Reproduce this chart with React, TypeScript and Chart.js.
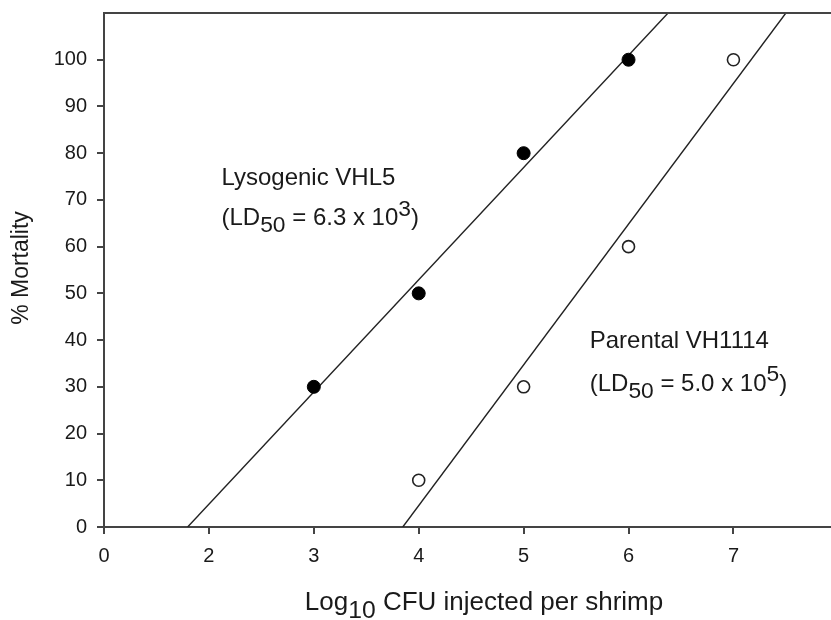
import React, { useEffect, useRef } from "react";
import { Chart, registerables } from "chart.js";

Chart.register(...registerables);

// ---- data ----
const lysogenicX = [3, 4, 5, 6];
const lysogenicY = [30, 50, 80, 100];
const parentalX = [4, 5, 6, 7];
const parentalY = [10, 30, 60, 100];
// fitted regression lines (endpoints)
const lysogenicFitX = [1.797, 6.377];
const lysogenicFitY = [0, 110];
const parentalFitX = [3.848, 7.5];
const parentalFitY = [0, 110];
// ticks (broken axis: first tick labelled "0")
const xTickValues = [1, 2, 3, 4, 5, 6, 7];
const xTickLabels = ["0", "2", "3", "4", "5", "6", "7"];
const yTickValues = [0, 10, 20, 30, 40, 50, 60, 70, 80, 90, 100];

type Part = { t: string; sub?: boolean; sup?: boolean };
const lysoLabel1: Part[] = [{ t: "Lysogenic VHL5" }];
const lysoLabel2: Part[] = [
  { t: "(LD" }, { t: "50", sub: true }, { t: " = 6.3 x 10" }, { t: "3", sup: true }, { t: ")" },
];
const paraLabel1: Part[] = [{ t: "Parental VH1114" }];
const paraLabel2: Part[] = [
  { t: "(LD" }, { t: "50", sub: true }, { t: " = 5.0 x 10" }, { t: "5", sup: true }, { t: ")" },
];
const xTitle: Part[] = [{ t: "Log" }, { t: "10", sub: true }, { t: " CFU injected per shrimp" }];
const yTitle = "% Mortality";

const FONT = '"Liberation Sans", Arial, Helvetica, sans-serif';
const INK = "#1a1a1a";

function drawRich(ctx: CanvasRenderingContext2D, parts: Part[], x: number, y: number, size: number, align: "left" | "center") {
  ctx.save();
  ctx.fillStyle = INK;
  ctx.textBaseline = "middle";
  ctx.textAlign = "left";
  const widths = parts.map((p) => {
    const s = p.sub || p.sup ? size * 0.95 : size;
    ctx.font = `${s}px ${FONT}`;
    return ctx.measureText(p.t).width;
  });
  const total = widths.reduce((a, b) => a + b, 0);
  let cx = align === "center" ? x - total / 2 : x;
  parts.forEach((p, i) => {
    const s = p.sub || p.sup ? size * 0.95 : size;
    ctx.font = `${s}px ${FONT}`;
    let dy = 0;
    if (p.sub) dy = size * 0.3;
    if (p.sup) dy = -size * 0.38;
    ctx.fillText(p.t, cx, y + dy);
    cx += widths[i];
  });
  ctx.restore();
}

// stretch the plot area to the right edge of the canvas (axis runs off the picture)
const fullRightPlugin = {
  id: "fullRight",
  afterLayout(chart: any) {
    const xs = chart.scales.x;
    const target = chart.width;
    if (chart.chartArea.right < target) {
      chart.chartArea.right = target;
      chart.chartArea.width = target - chart.chartArea.left;
      xs.right = target;
      xs.width = target - xs.left;
      xs.configure();
    }
  },
};

const decorPlugin = {
  id: "decor",
  afterDraw(chart: any) {
    const ctx = chart.ctx as CanvasRenderingContext2D;
    const { left, right, top } = chart.chartArea;
    const xs = chart.scales.x;
    const ys = chart.scales.y;
    // top frame line
    ctx.save();
    ctx.strokeStyle = "#444";
    ctx.lineWidth = 2;
    ctx.beginPath();
    ctx.moveTo(left - 1, top);
    ctx.lineTo(right, top);
    ctx.stroke();
    ctx.restore();
    // annotations
    drawRich(ctx, lysoLabel1, xs.getPixelForValue(2.12), ys.getPixelForValue(74.7), 24, "left");
    drawRich(ctx, lysoLabel2, xs.getPixelForValue(2.12), ys.getPixelForValue(66.0), 24, "left");
    drawRich(ctx, paraLabel1, xs.getPixelForValue(5.63), ys.getPixelForValue(39.8), 24, "left");
    drawRich(ctx, paraLabel2, xs.getPixelForValue(5.63), ys.getPixelForValue(30.6), 24, "left");
    // axis titles
    drawRich(ctx, xTitle, 484, 603, 26, "center");
    ctx.save();
    ctx.translate(22, 268);
    ctx.rotate(-Math.PI / 2);
    ctx.fillStyle = INK;
    ctx.font = `23px ${FONT}`;
    ctx.textAlign = "center";
    ctx.textBaseline = "middle";
    ctx.fillText(yTitle, 0, 0);
    ctx.restore();
  },
};

export default function App() {
  const ref = useRef<HTMLCanvasElement>(null);
  useEffect(() => {
    if (!ref.current) return;
    const toPts = (xs: number[], ys: number[]) => xs.map((x, i) => ({ x, y: ys[i] }));
    const chart = new Chart(ref.current, {
      type: "scatter",
      data: {
        datasets: [
          {
            label: "Lysogenic VHL5",
            data: toPts(lysogenicX, lysogenicY),
            pointRadius: 6.5,
            pointBackgroundColor: "#000",
            pointBorderColor: "#000",
            pointBorderWidth: 1,
            order: 0,
          },
          {
            label: "Parental VH1114",
            data: toPts(parentalX, parentalY),
            pointRadius: 6,
            pointBackgroundColor: "#fff",
            pointBorderColor: "#222",
            pointBorderWidth: 1.6,
            order: 0,
          },
          {
            label: "Lysogenic fit",
            data: toPts(lysogenicFitX, lysogenicFitY),
            showLine: true,
            pointRadius: 0,
            borderColor: "#222",
            borderWidth: 1.4,
            order: 1,
          },
          {
            label: "Parental fit",
            data: toPts(parentalFitX, parentalFitY),
            showLine: true,
            pointRadius: 0,
            borderColor: "#222",
            borderWidth: 1.4,
            order: 1,
          },
        ],
      },
      options: {
        animation: false,
        responsive: false,
        maintainAspectRatio: false,
        layout: { padding: { top: 13, left: 0, right: 0, bottom: 0 } },
        plugins: { legend: { display: false }, tooltip: { enabled: false } },
        scales: {
          x: {
            type: "linear",
            min: 1,
            max: 7.93,
            afterBuildTicks: (s: any) => {
              s.ticks = xTickValues.map((v) => ({ value: v }));
            },
            afterFit: (s: any) => {
              s.height = 93;
              s.paddingLeft = 0;
              s.paddingRight = 0;
            },
            ticks: {
              callback: (v: any) => {
                const i = xTickValues.indexOf(Number(v));
                return i >= 0 ? xTickLabels[i] : "";
              },
              color: INK,
              font: { family: FONT, size: 20 },
              padding: 10,
              maxRotation: 0,
              autoSkip: false,
            },
            grid: { drawOnChartArea: false, drawTicks: true, tickLength: 7, color: "#444", lineWidth: 2 },
            border: { display: true, color: "#444", width: 2 },
            title: { display: false },
          },
          y: {
            type: "linear",
            min: 0,
            max: 110,
            afterBuildTicks: (s: any) => {
              s.ticks = yTickValues.map((v) => ({ value: v }));
            },
            afterFit: (s: any) => {
              s.width = 104;
              s.paddingTop = 0;
              s.paddingBottom = 0;
            },
            ticks: {
              color: INK,
              font: { family: FONT, size: 20 },
              padding: 10,
              autoSkip: false,
            },
            grid: { drawOnChartArea: false, drawTicks: true, tickLength: 7, color: "#444", lineWidth: 2 },
            border: { display: true, color: "#444", width: 2 },
            title: { display: false },
          },
        },
      },
      plugins: [fullRightPlugin, decorPlugin],
    });
    return () => chart.destroy();
  }, []);
  return (
    <div style={{ position: "absolute", left: 0, top: 0, width: 831, height: 620, background: "#fff" }}>
      <canvas ref={ref} width={831} height={620} style={{ width: 831, height: 620, display: "block" }} />
    </div>
  );
}
